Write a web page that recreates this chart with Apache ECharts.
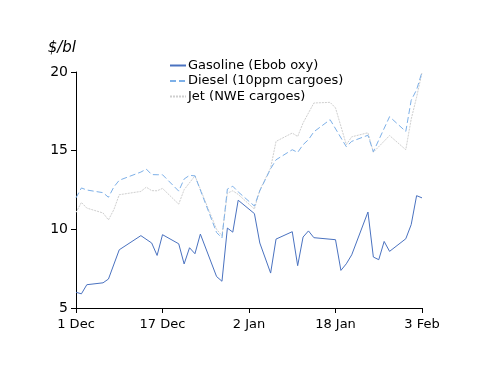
<!DOCTYPE html>
<html>
<head>
<meta charset="utf-8">
<script src="https://cdn.jsdelivr.net/npm/echarts@6/dist/echarts.min.js"></script>
<style>html,body{margin:0;padding:0;background:#fff}#c{width:500px;height:386px}</style>
</head>
<body>
<div id="c"></div>
<script>
// x values = days since 1 Dec
var tickLabels = ['1 Dec', '17 Dec', '2 Jan', '18 Jan', '3 Feb'];
var tickDays = [0, 16, 32, 48, 64];

var gasolineDays = [0,1,2,5,6,8,12,14,15,16,19,20,21,22,23,26,27,28,29,30,33,34,36,37,40,41,42,43,44,48,49,50,51,54,55,56,57,58,61,62,63,64];
var gasolineValues = [6.0,5.9,6.48,6.6,6.84,8.7,9.6,9.13,8.34,9.66,9.08,7.8,8.83,8.45,9.7,7.0,6.7,10.08,9.82,11.85,11.0,9.13,7.22,9.38,9.85,7.69,9.51,9.9,9.47,9.34,7.39,7.81,8.38,11.1,8.24,8.07,9.23,8.6,9.4,10.3,12.14,12.0];

var dieselDays = [0,1,2,5,6,7,8,12,13,14,15,16,19,20,21,22,26,27,28,29,30,33,34,36,37,40,41,42,43,44,47,50,51,54,55,58,61,62,63,64];
var dieselValues = [12.0,12.63,12.5,12.33,12.04,12.69,13.12,13.64,13.83,13.48,13.47,13.47,12.43,13.2,13.43,13.4,9.8,9.45,12.56,12.74,12.38,11.48,12.45,13.85,14.42,15.06,14.89,15.38,15.7,16.2,16.97,15.25,15.59,15.98,14.93,17.16,16.22,18.2,18.87,20.0];

var jetDays = [0,1,2,5,6,7,8,12,13,14,15,16,19,20,22,26,27,28,29,30,33,34,36,37,40,41,42,44,47,48,50,51,54,55,58,61,62,63,64];
var jetValues = [11.07,11.71,11.35,11.04,10.6,11.25,12.2,12.41,12.68,12.46,12.45,12.6,11.6,12.52,13.4,10.0,9.6,12.3,12.45,12.22,11.29,12.5,13.9,15.59,16.12,15.9,16.76,18.03,18.07,17.72,15.38,15.88,16.14,14.9,15.96,15.06,17.0,18.4,19.97];

var seriesNames = ['Gasoline (Ebob oxy)', 'Diesel (10ppm cargoes)', 'Jet (NWE cargoes)'];

function pairs(d, v) { return d.map(function (x, i) { return [x, v[i]]; }); }

var FONT = 'DejaVu Sans';
var chart = echarts.init(document.getElementById('c'), null, {renderer: 'canvas'});
chart.setOption({
  animation: false,
  backgroundColor: '#ffffff',
  textStyle: {fontFamily: FONT},
  grid: {left: 76, right: 78, top: 72, bottom: 78, containLabel: false},
  legend: {
    orient: 'vertical', left: 164, top: 54, itemWidth: 16, itemHeight: 12, itemGap: 2.5,
    itemStyle: {opacity: 0},
    textStyle: {fontFamily: FONT, fontSize: 13, color: '#000', padding: [0, 0, 0, -3]},
    data: seriesNames
  },
  xAxis: {
    type: 'value', min: 0, max: 64, interval: 16,
    axisLine: {lineStyle: {color: '#000', width: 1}},
    axisTick: {show: true, length: 5, lineStyle: {color: '#000'}},
    splitLine: {show: false},
    axisLabel: {
      fontFamily: FONT, fontSize: 13, color: '#000', margin: 10,
      formatter: function (v) { var i = tickDays.indexOf(v); return i >= 0 ? tickLabels[i] : ''; }
    }
  },
  yAxis: {
    type: 'value', min: 5, max: 20, interval: 5,
    name: '$/bl', nameLocation: 'end', nameGap: 16,
    nameTextStyle: {fontFamily: FONT, fontSize: 15, fontStyle: 'italic', color: '#000', align: 'right', padding: [0, 0, 0, 0]},
    axisLine: {show: true, lineStyle: {color: '#000', width: 1}},
    axisTick: {show: true, length: 5, lineStyle: {color: '#000'}},
    splitLine: {show: false},
    axisLabel: {fontFamily: FONT, fontSize: 14, color: '#000', margin: 8}
  },
  series: [
    {name: seriesNames[0], type: 'line', data: pairs(gasolineDays, gasolineValues), symbol: 'none', showSymbol: false,
     lineStyle: {color: '#4a72c0', width: 1}, itemStyle: {color: '#4a72c0'}, z: 3},
    {name: seriesNames[1], type: 'line', data: pairs(dieselDays, dieselValues), symbol: 'none', showSymbol: false,
     lineStyle: {color: '#7db0e8', width: 1, type: [6, 3]}, itemStyle: {color: '#7db0e8'}, z: 2},
    {name: seriesNames[2], type: 'line', data: pairs(jetDays, jetValues), symbol: 'none', showSymbol: false,
     lineStyle: {color: '#cfcfcf', width: 1, type: [2, 1]}, itemStyle: {color: '#cfcfcf'}, z: 1}
  ]
});
</script>
</body>
</html>
